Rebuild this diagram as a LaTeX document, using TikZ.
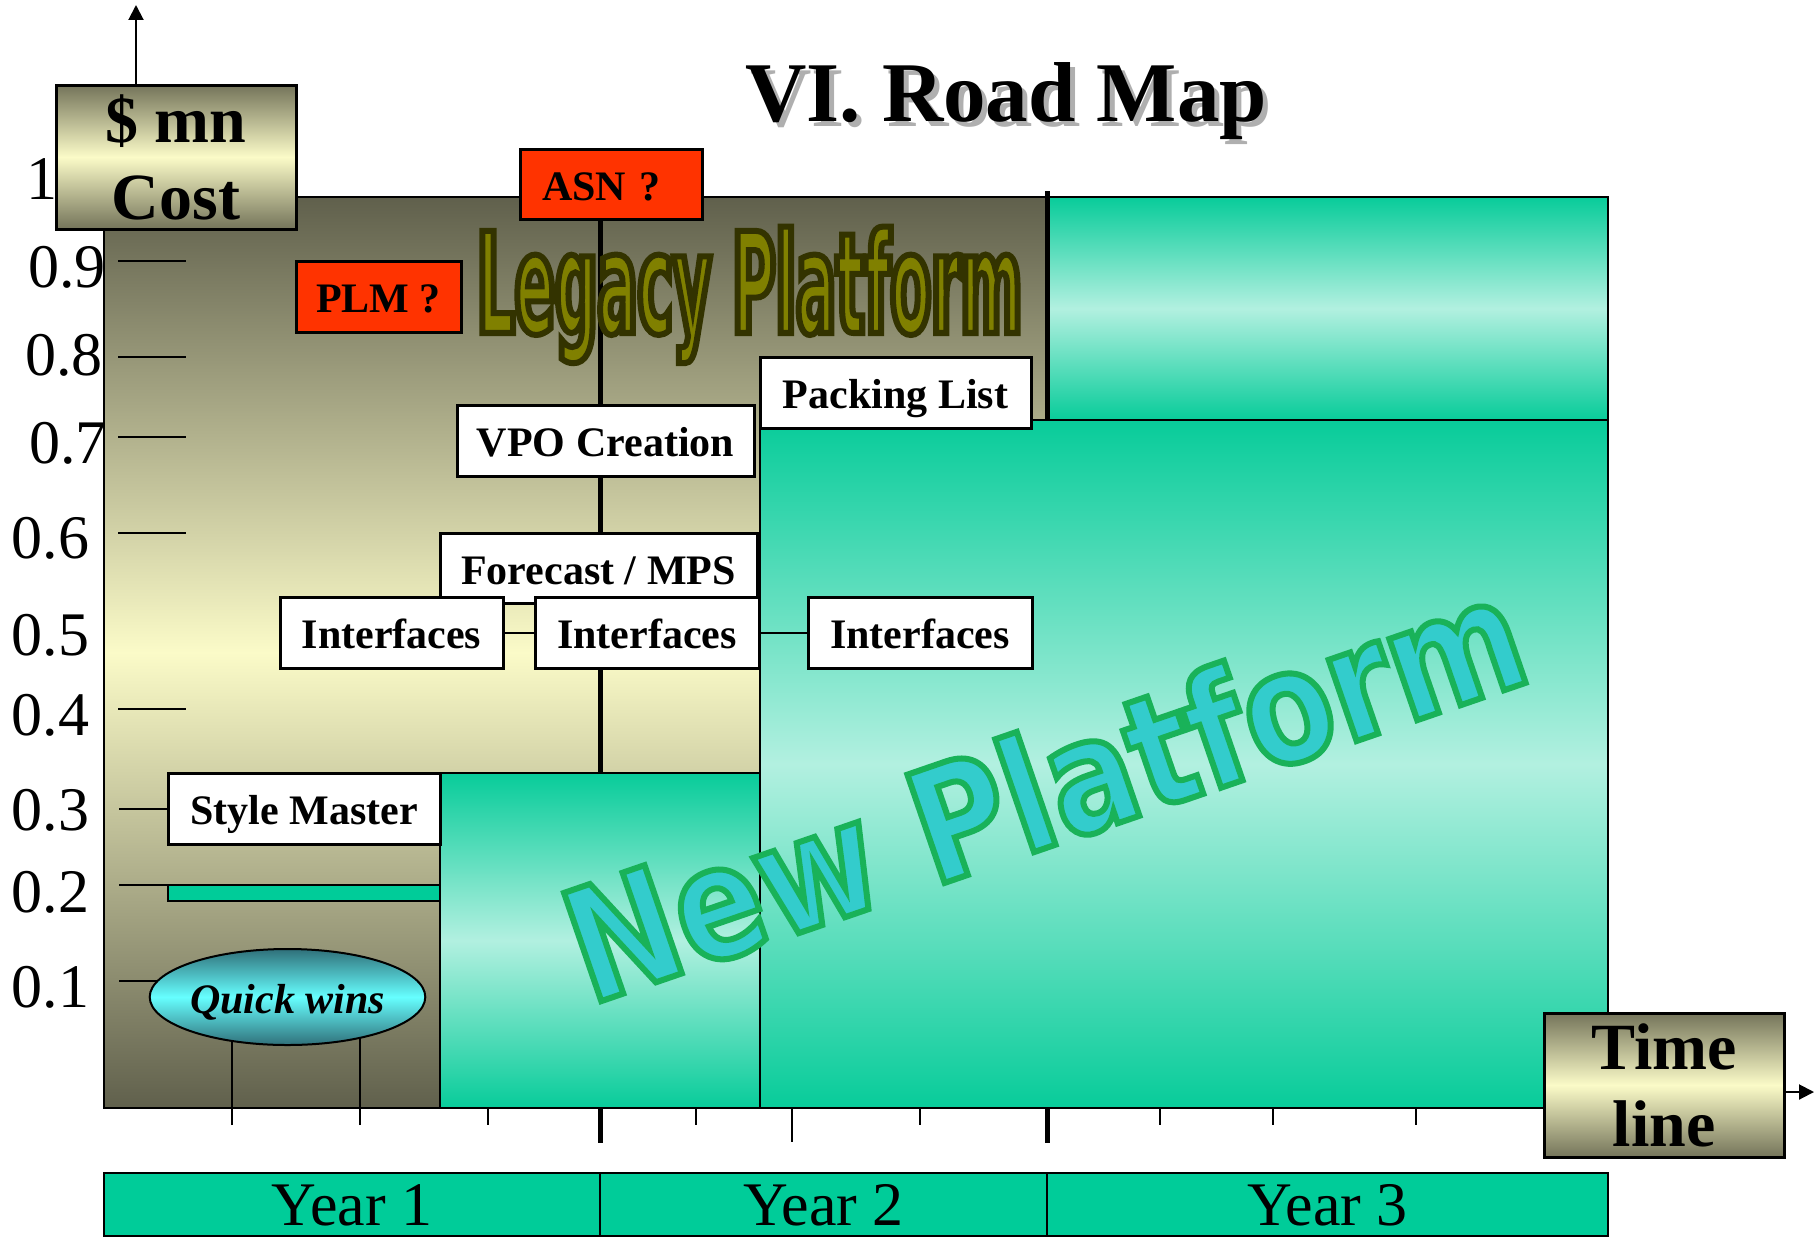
\documentclass[tikz,border=0pt]{standalone}
\usepackage{fontspec}
\setmainfont{Liberation Serif}
\newfontfamily\legacyfont{DejaVu Sans Bold}[FakeStretch=0.424]
\newfontfamily\newplatfont{DejaVu Sans Bold}[FakeStretch=0.83]
\usetikzlibrary{arrows.meta,shapes.geometric}
\newcommand\fsz[1]{\fontsize{#1pt}{#1pt}\selectfont}
\newcommand\outl[3]{\special{pdf:literal direct #1 RG #2 w 2 Tr}#3\special{pdf:literal direct 0 Tr}}
\definecolor{legdark}{RGB}{96,96,76}
\definecolor{legmid}{RGB}{251,251,200}
\definecolor{costdark}{RGB}{116,116,90}
\definecolor{tealedge}{RGB}{8,204,154}
\definecolor{teallight}{RGB}{178,240,224}
\definecolor{yearteal}{RGB}{0,204,153}
\definecolor{orq}{RGB}{255,51,0}
\definecolor{qwdark}{RGB}{48,112,122}
\definecolor{qwlight}{RGB}{102,255,255}
\definecolor{olivew}{RGB}{128,128,0}
\definecolor{npfill}{RGB}{51,204,204}
\definecolor{tshadow}{RGB}{175,175,175}
\tikzset{
  every node/.style={outer sep=0pt},
  lbl/.style={draw, line width=3pt, fill=white, inner sep=0pt, font=\bfseries\fsz{42},
              text height=32pt, text depth=0pt},
  qbox/.style={lbl, fill=orq},
  gradbox/.style={draw, line width=3pt, inner sep=0pt, top color=costdark, bottom color=costdark,
              middle color=legmid, font=\bfseries\fontsize{66pt}{77pt}\selectfont, align=center},
  tealrect/.style={draw, line width=2.5pt, inner sep=0pt, top color=tealedge, bottom color=tealedge,
              middle color=teallight},
  yearbar/.style={draw, line width=2.5pt, inner sep=0pt, fill=yearteal, minimum height=63pt,
              font=\fsz{62}, text height=41pt, text depth=0pt},
  axl/.style={anchor=base west, inner sep=0pt, font=\fsz{62}},
  tk/.style={line width=2pt},
  thickline/.style={line width=5pt},
}
\begin{document}
\begin{tikzpicture}[x=1pt,y=-1pt]
\path[fill=white] (0,0) rectangle (1814,1239);
\useasboundingbox (0,0) rectangle (1814,1239);

% axis labels
\node[axl] (l10) at (27,199) {1};
\node[axl] (l9) at (28,287) {0.9};
\node[axl] (l8) at (25,375) {0.8};
\node[axl] (l7) at (29,463) {0.7};
\node[axl] (l6) at (12,558) {0.6};
\node[axl] (l5) at (12,655) {0.5};
\node[axl] (l4) at (12,735) {0.4};
\node[axl] (l3) at (12,830) {0.3};
\node[axl] (l2) at (12,912) {0.2};
\node[axl] (l1) at (12,1007) {0.1};

% legacy platform area
\node[draw, line width=2.5pt, inner sep=0pt, minimum width=943pt, minimum height=911pt,
      top color=legdark, bottom color=legdark, middle color=legmid] (legacy) at (575.5,652.5) {};

% y ticks
\foreach \yy in {261,357,437,533,709} \draw[tk] (118,\yy) -- (186,\yy);

% new platform areas
\node[tealrect, minimum width=561pt, minimum height=223pt] (y3top) at (1327.5,308.5) {};
\node[tealrect, minimum width=848pt, minimum height=688pt] (newplat) at (1184,764) {};
\node[tealrect, minimum width=320pt, minimum height=335pt] (smallteal) at (600,940.5) {};
\draw[thickline] ([yshift=6pt]legacy.north east) -- (y3top.south west);

% label boxes
\node[lbl, minimum width=271pt, minimum height=71pt] (pack) at (895.5,392.5) {Packing List};
\node[lbl, minimum width=297pt, minimum height=71pt] (vpo) at (605.5,440.5) {VPO Creation};
\node[lbl, minimum width=317pt, minimum height=70pt] (fc) at (598.5,568) {Forecast / MPS};
\node[lbl, minimum width=223pt, minimum height=71pt] (ifl) at (391.5,632.5) {Interfaces};
\node[lbl, minimum width=224pt, minimum height=71pt] (ifm) at (647,632.5) {Interfaces};
\node[lbl, minimum width=224pt, minimum height=71pt] (ifr) at (920,632.5) {Interfaces};
\node[lbl, minimum width=272pt, minimum height=71pt] (sm) at (304,808.5) {Style Master};
\node[draw, line width=2.5pt, inner sep=0pt, fill=yearteal, minimum width=272pt, minimum height=16pt] (bar) at (304,893) {};
\node[qbox, minimum width=165pt, minimum height=71pt] (plm) at (378.5,296.5) {PLM ?};
\node[qbox, minimum width=182pt, minimum height=70pt, text width=138pt, inner xsep=22pt, align=left] (asn) at (611,184) {ASN ?};

% connectors
\coordinate (vline) at (600,0);
\draw[thickline] (vline |- asn.south) -- (vline |- vpo.north);
\draw[thickline] (vline |- vpo.south) -- (vline |- fc.north);
\draw[thickline] (vline |- ifm.south) -- (vline |- smallteal.north);
\draw[tk] (ifl.east) -- (ifm.west);
\draw[tk] (ifm.east) -- (ifr.west);
\draw[tk] (119,808.5) -- (sm.west);
\draw[tk] (119,885) -- (bar.north west);
\draw[tk] (119,981.3) -- (160,981.3);

% quick wins
\draw[tk] (232,1125) -- (232,1020);
\draw[tk] (360,1125) -- (360,1020);
\node[ellipse, draw, line width=2pt, minimum width=271pt, minimum height=96pt, inner sep=0pt,
      top color=qwdark, bottom color=qwdark, middle color=qwlight,
      font=\bfseries\itshape\fsz{42}, text height=32pt, text depth=0pt] (qw) at (287.5,997) {Quick wins};

% x ticks
\foreach \xx in {488,696,920,1160,1273,1416} \draw[tk] (\xx,1108) -- (\xx,1125);
\draw[tk] (792,1108) -- (792,1142);
\draw[thickline] (600,1108) -- (600,1143);
\draw[thickline] (1047,1108) -- (1047,1143);

% axis title boxes
\node[gradbox, minimum width=240pt, minimum height=144pt] (cost) at (176,157) {\$ mn\\Cost};
\node[gradbox, minimum width=240pt, minimum height=144pt] (time) at (1664,1085) {Time\\line};
\coordinate (ytip) at (136,5);
\coordinate (xtip) at (1814,1092);
\draw[line width=2pt, -{Triangle[length=15pt,width=15pt]}] (ytip |- cost.north) -- (ytip);
\draw[line width=2pt, -{Triangle[length=15pt,width=15pt]}] (time.east |- xtip) -- (xtip);

% year bars
\node[yearbar, minimum width=496pt] (year1) at (352,1204.5) {Year 1};
\node[yearbar, minimum width=447pt] (year2) at (823.5,1204.5) {Year 2};
\node[yearbar, minimum width=561pt] (year3) at (1327.5,1204.5) {Year 3};

% title
\node[anchor=base, inner sep=0pt, font=\bfseries\fsz{85}, text=tshadow] (titlesh) at (1011,126) {VI. Road Map};
\node[anchor=base, inner sep=0pt, font=\bfseries\fsz{85}] (title) at (1006,121) {VI. Road Map};

% word art
\node[anchor=base west, inner sep=0pt, font=\legacyfont\fsz{140}, text=olivew] (legtxt) at (477,333) {\outl{0.2 0.2 0}{6}{Legacy Platform}};
\node[anchor=base west, inner sep=0pt, rotate=19, font=\newplatfont\fsz{157}, text=npfill] (nptxt) at (590,1005) {\outl{0.1 0.7 0.35}{6}{New Platform}};
\end{tikzpicture}
\end{document}
